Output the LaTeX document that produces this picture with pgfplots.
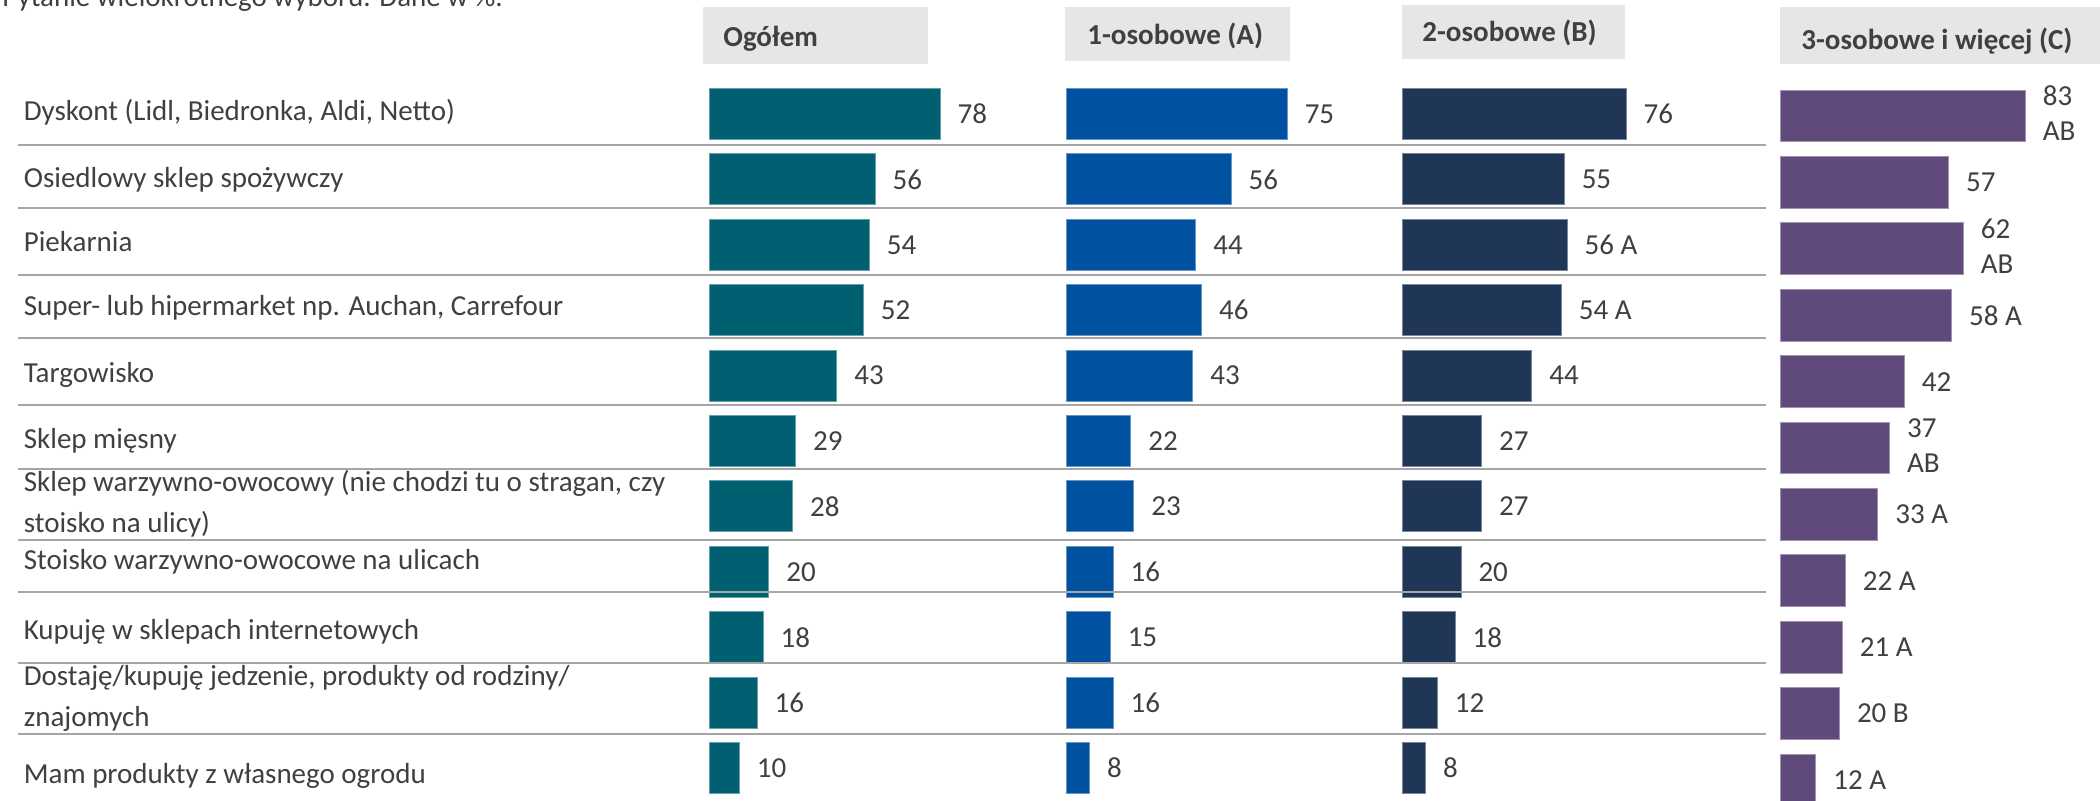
\documentclass[border=0pt]{standalone}
\usepackage{fontspec}
\setmainfont{Carlito}
\usepackage{pgfplots}
\pgfplotsset{compat=1.18}
\definecolor{cteal}{HTML}{006072}
\definecolor{cblue}{HTML}{0051A0}
\definecolor{cnavy}{HTML}{1F3657}
\definecolor{cpurple}{HTML}{604A7B}
\definecolor{ctext}{HTML}{404040}
\definecolor{chead}{HTML}{E7E6E6}
\definecolor{cline}{HTML}{A6A6A6}
\protected\def\two#1#2{\begin{tabular}{@{}l@{}}#1\\#2\end{tabular}}
\newcommand\lf{\fontsize{14.5}{17.4}\selectfont}
\begin{document}
\begin{tikzpicture}
\useasboundingbox (0,0) rectangle (1050pt,-400.5pt);
\pgfplotsset{panel/.style={
  xbar, scale only axis, width=147.5pt, height=359.7pt,
  xmin=0, xmax=100, ymin=-0.5, ymax=10.5, y dir=reverse,
  enlargelimits=false, bar width=0.78, clip=false, anchor=north west,
  nodes near coords={\pgfplotspointmeta}, point meta=explicit symbolic,
  every node near coord/.append style={anchor=west, inner sep=0pt, xshift=8.5pt, font=\lf, text=ctext},
}}
% top question text (partly cut)
\node[anchor=base west, inner sep=0pt, font=\lf, text=ctext] at (1pt,-3.5pt) {Pytanie wielokrotnego wyboru. Dane w \%.};
% header boxes
\fill[chead] (351.5pt,-3.5pt) rectangle (464pt,-32pt);
\fill[chead] (532.5pt,-3.5pt) rectangle (645pt,-30.5pt);
\fill[chead] (701pt,-2.5pt) rectangle (812.5pt,-29.5pt);
\fill[chead] (890pt,-3.5pt) rectangle (1050pt,-32pt);
\node[anchor=base west, inner sep=0pt, font=\lf\bfseries, text=ctext] at (361.5pt,-23.5pt) {Ogółem};
\node[anchor=base west, inner sep=0pt, font=\lf\bfseries, text=ctext] at (543.5pt,-22.5pt) {1-osobowe (A)};
\node[anchor=base west, inner sep=0pt, font=\lf\bfseries, text=ctext] at (711pt,-21pt) {2-osobowe (B)};
\node[anchor=base west, inner sep=0pt, font=\lf\bfseries, text=ctext] at (900.5pt,-25pt) {3-osobowe i więcej (C)};
% Ogółem
\begin{axis}[panel, at={(355pt,-40.65pt)},
  axis line style={draw=none}, major tick style={draw=none}, xtick=\empty,
  ytick={-0.031,1.009,1.957,2.966,3.991,5.0,5.963,6.850,7.920,8.930,10.122},
  yticklabels={{Dyskont (Lidl, Biedronka, Aldi, Netto)},{Osiedlowy sklep spożywczy},{Piekarnia},{Super- lub hipermarket np. Auchan, Carrefour},{Targowisko},{Sklep mięsny},{Sklep warzywno-owocowy (nie chodzi tu o stragan, czy\\stoisko na ulicy)},{Stoisko warzywno-owocowe na ulicach},{Kupuję w sklepach internetowych},{Dostaję/kupuję jedzenie, produkty od rodziny/\\znajomych},{Mam produkty z własnego ogrodu}},
  yticklabel style={anchor=west, align=left, inner sep=0pt, xshift=-339pt, font=\fontsize{14.5}{20.5}\selectfont, text=ctext},
]
\addplot[fill=cteal, draw=cteal!60!white, line width=0.5pt] coordinates {
 (78,0)[78] (56,1)[56] (54,2)[54] (52,3)[52] (43,4)[43] (29,5)[29]
 (28,6)[28] (20,7)[20] (18,8)[18] (16,9)[16] (10,10)[10]};
\end{axis}
% 1-osobowe
\begin{axis}[panel, hide axis, at={(533pt,-40.65pt)}]
\addplot[fill=cblue, draw=cblue!60!white, line width=0.5pt] coordinates {
 (75,0)[75] (56,1)[56] (44,2)[44] (46,3)[46] (43,4)[43] (22,5)[22]
 (23,6)[23] (16,7)[16] (15,8)[15] (16,9)[16] (8,10)[8]};
\end{axis}
% 2-osobowe
\begin{axis}[panel, hide axis, at={(701pt,-40.65pt)}]
\addplot[fill=cnavy, draw=cnavy!60!white, line width=0.5pt] coordinates {
 (76,0)[76] (55,1)[55] (56,2)[56 A] (54,3)[54 A] (44,4)[44] (27,5)[27]
 (27,6)[27] (20,7)[20] (18,8)[18] (12,9)[12] (8,10)[8]};
\end{axis}
% 3-osobowe i więcej
\begin{axis}[panel, hide axis, height=365.2pt, at={(890.25pt,-41.4pt)}]
\addplot[fill=cpurple, draw=cpurple!60!white, line width=0.5pt] coordinates {
 (83,0)[\two{83}{AB}] (57,1)[57] (62,2)[\two{62}{AB}] (58,3)[58 A] (42,4)[42] (37,5)[\two{37}{AB}]
 (33,6)[33 A] (22,7)[22 A] (21,8)[21 A] (20,9)[20 B] (12,10)[12 A]};
\end{axis}
% row separators
\foreach \yy in {72.5,104,137.5,169,202.5,234.5,270,296,331.5,367}
  \draw[cline, line width=1.2pt] (9pt,-\yy pt) -- (883pt,-\yy pt);
\end{tikzpicture}
\end{document}
